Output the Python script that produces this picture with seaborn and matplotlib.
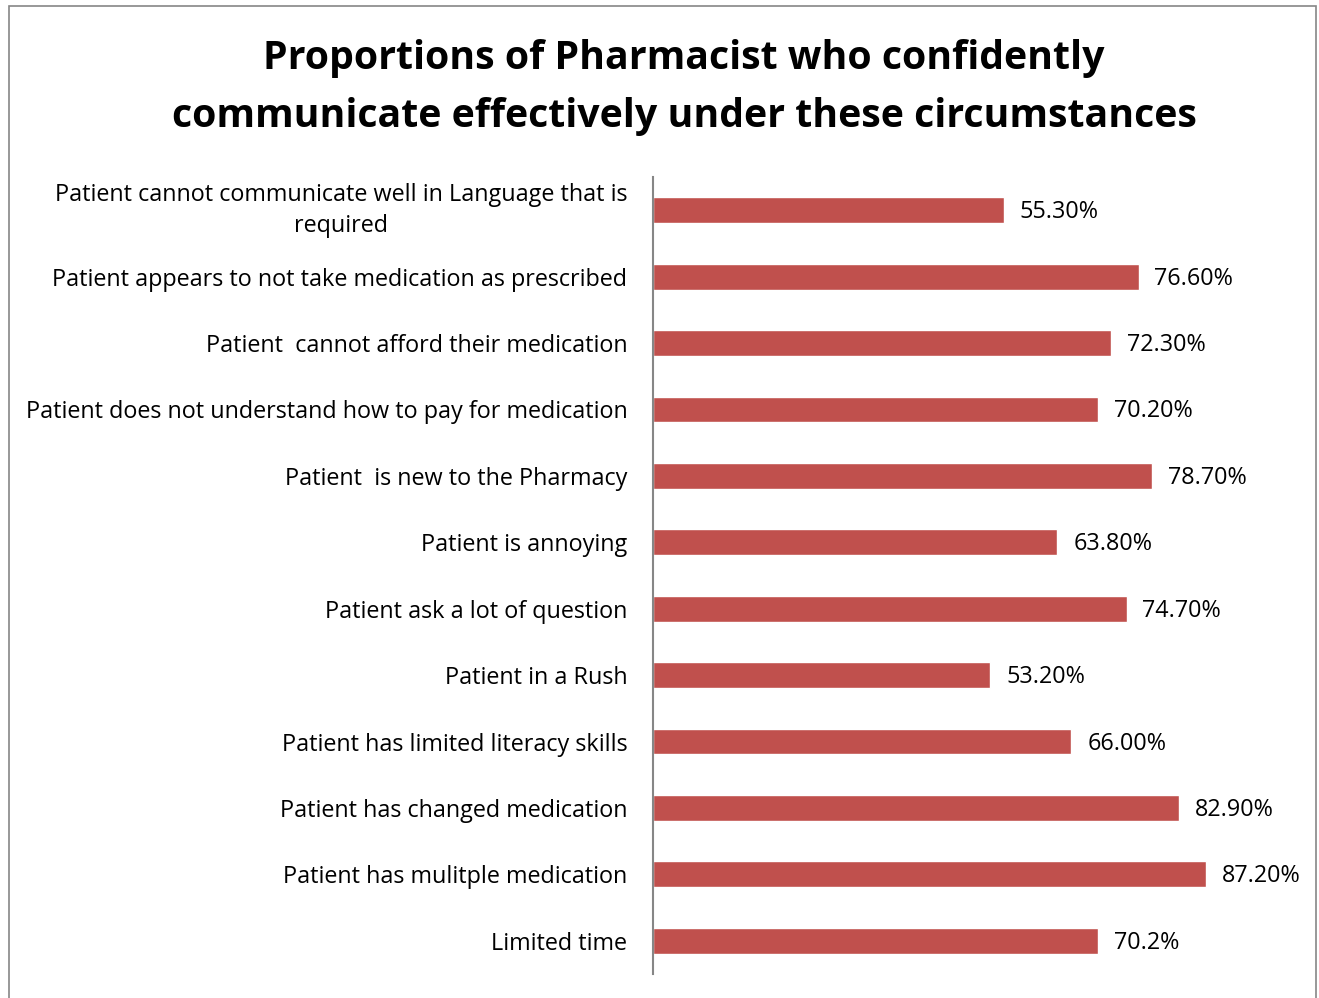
import matplotlib
matplotlib.use("Agg")
import matplotlib.pyplot as plt
import seaborn as sns
import pandas as pd
from matplotlib.patches import Rectangle

categories = [
    "Patient cannot communicate well in Language that is\nrequired",
    "Patient appears to not take medication as prescribed",
    "Patient  cannot afford their medication",
    "Patient does not understand how to pay for medication",
    "Patient  is new to the Pharmacy",
    "Patient is annoying",
    "Patient ask a lot of question",
    "Patient in a Rush",
    "Patient has limited literacy skills",
    "Patient has changed medication",
    "Patient has mulitple medication",
    "Limited time",
]
values = [55.3, 76.6, 72.3, 70.2, 78.7, 63.8, 74.7, 53.2, 66.0, 82.9, 87.2, 70.2]
value_labels = ["55.30%", "76.60%", "72.30%", "70.20%", "78.70%", "63.80%",
                "74.70%", "53.20%", "66.00%", "82.90%", "87.20%", "70.2%"]
title_lines = ["Proportions of Pharmacist who confidently",
               "communicate effectively under these circumstances"]

df = pd.DataFrame({"category": categories, "value": values})

sns.set_theme(style="white")
plt.rcParams["font.family"] = ["Open Sans", "DejaVu Sans"]

fig = plt.figure(figsize=(13.19, 9.98), dpi=100)
ax = fig.add_axes([653 / 1319, 1 - 974 / 998, (1287 - 653) / 1319, (974 - 177) / 998])

bar_color = "#C0504D"
sns.barplot(data=df, x="value", y="category", orient="h", color=bar_color,
            width=0.39, saturation=1, ax=ax)

ax.set_xlim(0, 100)
ax.set_ylim(len(categories) - 0.5, -0.5)
ax.set_xlabel("")
ax.set_ylabel("")
ax.set_xticks([])
ax.tick_params(axis="y", length=0, pad=18.5, labelsize=16.8, labelcolor="black")
for lbl in ax.get_yticklabels():
    lbl.set_multialignment("center")
    lbl.set_linespacing(1.4)
    if "\n" in lbl.get_text():
        lbl.set_va("center")

for s in ["top", "right", "bottom"]:
    ax.spines[s].set_visible(False)
ax.spines["left"].set_color("#868686")
ax.spines["left"].set_linewidth(1.5)

for i, (v, t) in enumerate(zip(values, value_labels)):
    ax.text(v + 2.5, i + 0.03, t, va="center", ha="left", fontsize=16.8, color="black")

for y_px, line in zip([59, 117], title_lines):
    fig.text(684 / 1319, 1 - y_px / 998, line, ha="center", va="center",
             fontsize=28.3, fontweight="bold", color="black")

# Outer chart border
fig.patches.append(Rectangle((9 / 1319, -0.01), (1316 - 9) / 1319, 1 - 6 / 998 + 0.01,
                             transform=fig.transFigure, fill=False,
                             edgecolor="#868686", linewidth=1.2))

fig.savefig("out.png", dpi=100)
